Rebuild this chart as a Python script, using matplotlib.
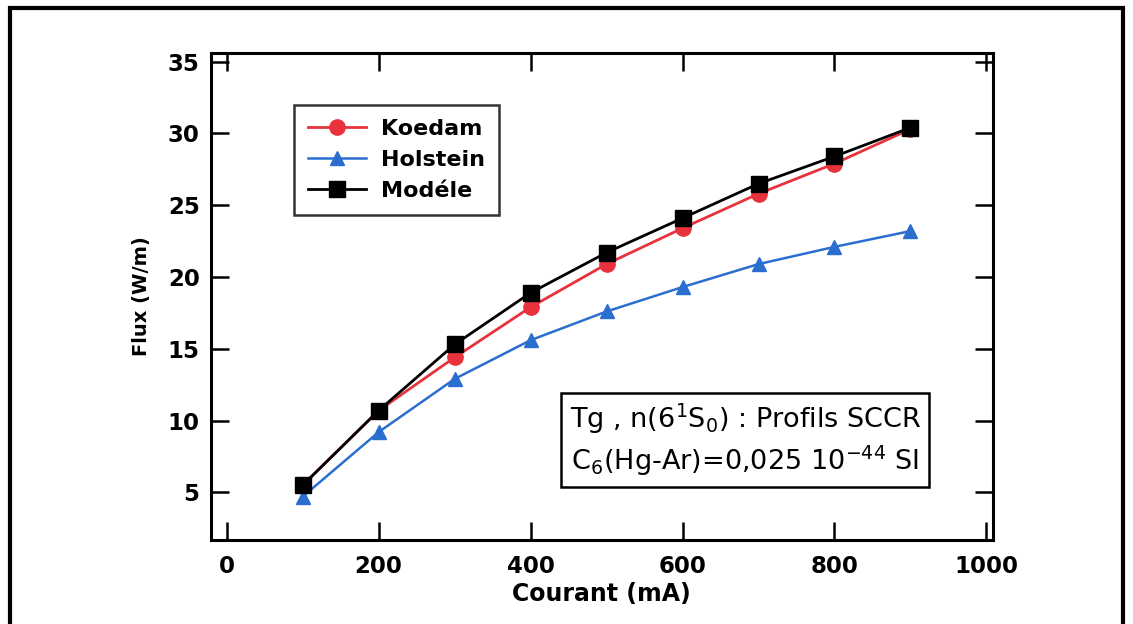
import matplotlib.pyplot as plt
from matplotlib.patches import Rectangle

plt.rcParams['font.family'] = ['DejaVu Sans']
plt.rcParams['mathtext.default'] = 'regular'

# donnees
courant = [100, 200, 300, 400, 500, 600, 700, 800, 900]
koedam = [5.5, 10.7, 14.4, 17.9, 20.9, 23.4, 25.8, 27.9, 30.3]
holstein = [4.7, 9.2, 12.9, 15.6, 17.6, 19.3, 20.9, 22.1, 23.2]
modele = [5.5, 10.7, 15.3, 18.9, 21.7, 24.1, 26.5, 28.4, 30.4]

xticks = [0, 200, 400, 600, 800, 1000]
yticks = [5, 10, 15, 20, 25, 30, 35]

fig = plt.figure(figsize=(11.33, 6.24), dpi=100)
ax = fig.add_axes([0.186, 0.135, 0.690, 0.780])

ax.plot(courant, koedam, color='#e8323c', lw=2, marker='o', ms=11, label='Koedam')
ax.plot(courant, holstein, color='#2a6fcf', lw=1.8, marker='^', ms=10, label='Holstein')
ax.plot(courant, modele, color='black', lw=2, marker='s', ms=11.5, label='Modéle')

ax.set_xlim(-21, 1008)
ax.set_ylim(1.7, 35.6)
ax.set_xticks(xticks)
ax.set_yticks(yticks)
ax.tick_params(direction='in', top=True, right=True, length=13, width=1.8,
               labelsize=16.5, pad=8)
ax.tick_params(axis='x', pad=11)
for s in ax.spines.values():
    s.set_linewidth(2.2)
for lab in ax.get_xticklabels() + ax.get_yticklabels():
    lab.set_fontweight('bold')

ax.set_xlabel('Courant (mA)', fontsize=17, fontweight='bold', labelpad=3)
ax.set_ylabel('Flux (W/m)', fontsize=14, fontweight='bold', labelpad=12)

leg = ax.legend(loc='upper left', bbox_to_anchor=(0.107, 0.893), borderaxespad=0,
                fancybox=False, edgecolor='black', fontsize=16, handlelength=2.6,
                labelspacing=0.5, borderpad=0.62, handletextpad=0.7)
leg.get_frame().set_linewidth(1.8)
for t in leg.get_texts():
    t.set_fontweight('bold')

ax.text(0.684, 0.205,
        'Tg , n(6$^1$S$_0$) : Profils SCCR\nC$_6$(Hg-Ar)=0,025 10$^{-44}$ SI',
        transform=ax.transAxes, ha='center', va='center', multialignment='center',
        fontsize=19.5, linespacing=1.3,
        bbox=dict(boxstyle='square,pad=0.3', fc='white', ec='black', lw=1.8))

# cadre autour de la figure
fig.patches.append(Rectangle((0.009, -0.02), 0.982, 1.007, transform=fig.transFigure,
                             fill=False, lw=3, ec='black'))

fig.savefig('out.png', dpi=100)
